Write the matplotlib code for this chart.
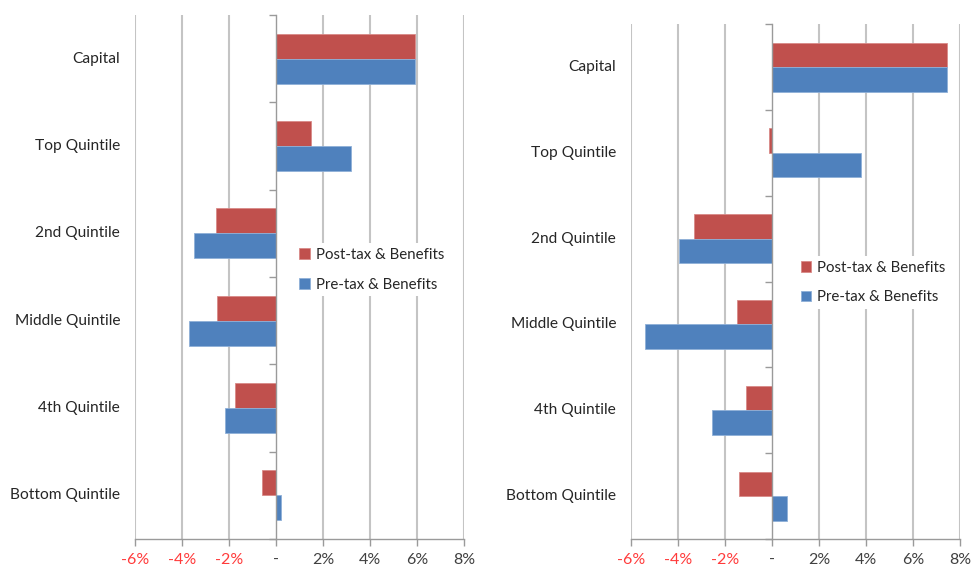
import matplotlib.pyplot as plt
import numpy as np

plt.rcParams["font.family"] = ["Lato", "DejaVu Sans"]

# === data (percent change) ===
categories = ["Capital", "Top Quintile", "2nd Quintile", "Middle Quintile",
              "4th Quintile", "Bottom Quintile"]
left_post = [5.9, 1.5, -2.55, -2.5, -1.75, -0.6]
left_pre = [5.9, 3.2, -3.5, -3.7, -2.15, 0.2]
right_post = [7.45, -0.13, -3.3, -1.5, -1.1, -1.4]
right_pre = [7.45, 3.8, -3.95, -5.4, -2.55, 0.65]

x_ticks = [-6, -4, -2, 0, 2, 4, 6, 8]
x_labels = ["-6%", "-4%", "-2%", "-", "2%", "4%", "6%", "8%"]

RED = "#C0504D"
BLUE = "#4F81BD"
GRID = "#C4C4C4"
AXIS = "#9A9A9A"
TEXT = "#404040"
NEG = "#FF3B3B"

fig = plt.figure(figsize=(9.71, 5.67), dpi=100)


def draw_panel(ax, post, pre, legend_pos):
    n = len(categories)
    y = n - 0.5 - np.arange(n)
    h = 0.286

    ax.barh(y + h / 2, post, height=h, color=RED, edgecolor="#D98A88",
            linewidth=0.6, zorder=3, label="Post-tax & Benefits")
    ax.barh(y - h / 2, pre, height=h, color=BLUE, edgecolor="#8FB0D8",
            linewidth=0.6, zorder=3, label="Pre-tax & Benefits")

    ax.set_xlim(-6, 8)
    ax.set_ylim(0, n)

    # vertical grid
    for xt in x_ticks:
        if xt != 0:
            ax.axvline(xt, color=GRID, linewidth=1.5, zorder=1)

    # zero axis with category boundary ticks
    for s in ["top", "right"]:
        ax.spines[s].set_visible(False)
    ax.spines["left"].set_position(("data", 0))
    ax.spines["left"].set_color(AXIS)
    ax.spines["left"].set_linewidth(1.0)
    ax.spines["left"].set_zorder(4)
    ax.spines["bottom"].set_color(AXIS)
    ax.spines["bottom"].set_linewidth(1.0)
    ax.set_yticks(np.arange(n + 1))
    ax.set_yticklabels([])
    ax.tick_params(axis="y", length=5, color=AXIS, width=1.0)

    ax.set_xticks(x_ticks)
    ax.set_xticklabels(x_labels, fontsize=11.5)
    ax.tick_params(axis="x", length=5, color=AXIS, width=1.0, pad=5)
    for lbl, xt in zip(ax.get_xticklabels(), x_ticks):
        lbl.set_color(NEG if xt < 0 else TEXT)

    # category names at the low side
    for yi, name in zip(y, categories):
        ax.text(-0.045, yi, name, transform=ax.get_yaxis_transform(),
                ha="right", va="center", fontsize=11.2, color="#262626")

    leg = ax.legend(loc="center", bbox_to_anchor=legend_pos, frameon=True,
                    fontsize=10.8, handlelength=0.7, handleheight=0.7,
                    handletextpad=0.4, labelspacing=1.05, borderpad=0.3)
    leg.get_frame().set_edgecolor("none")
    leg.get_frame().set_facecolor("white")
    leg.get_frame().set_alpha(1)
    leg.set_zorder(5)
    for t in leg.get_texts():
        t.set_color("#262626")


ax1 = fig.add_axes([0.139, 0.0494, 0.3388, 0.924])
draw_panel(ax1, left_post, left_pre, (0.72, 0.514))

ax2 = fig.add_axes([0.6498, 0.0494, 0.3388, 0.908])
draw_panel(ax2, right_post, right_pre, (0.736, 0.498))

fig.savefig("out.png", dpi=100)
plt.close(fig)
